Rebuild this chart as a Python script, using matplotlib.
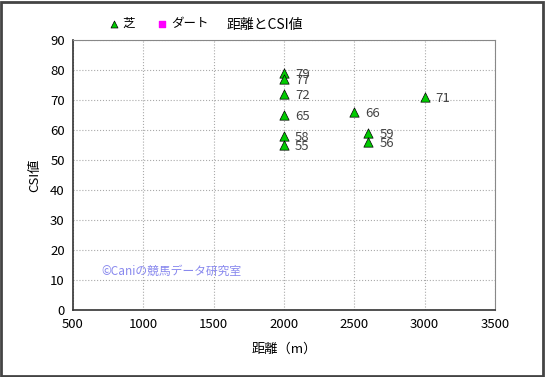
import matplotlib
matplotlib.use("Agg")
import matplotlib.pyplot as plt
from matplotlib.patches import Rectangle

plt.rcParams['font.family'] = ['Noto Sans CJK JP', 'DejaVu Sans']

# 芝 (turf) races: distance (m) and CSI value
turf_dist = [2000, 2000, 2000, 2000, 2000, 2000, 2500, 2600, 2600, 3000]
turf_csi = [79, 77, 72, 65, 58, 55, 66, 59, 56, 71]

# ダート (dirt) races: none in this chart
dirt_dist = []
dirt_csi = []

x_ticks = [500, 1000, 1500, 2000, 2500, 3000, 3500]
y_ticks = [0, 10, 20, 30, 40, 50, 60, 70, 80, 90]

fig = plt.figure(figsize=(5.45, 3.77), dpi=100)
ax = fig.add_axes([0.134, 0.178, 0.774, 0.716])

ax.scatter(turf_dist, turf_csi, marker='^', s=45, color='#00cc00',
           edgecolors='black', linewidths=0.5, zorder=3, label='芝')
ax.scatter(dirt_dist, dirt_csi, marker='s', s=40, color='#ff00ff',
           zorder=3, label='ダート')

for d, c in zip(turf_dist, turf_csi):
    ax.annotate(str(c), (d, c), xytext=(8, -1), textcoords='offset points',
                fontsize=9.5, color='#444444', va='center')

ax.set_xlim(500, 3500)
ax.set_ylim(0, 90)
ax.set_xticks(x_ticks)
ax.set_yticks(y_ticks)
ax.tick_params(length=0, labelsize=9.5, pad=6)
ax.grid(True, linestyle=':', color='#aaaaaa', linewidth=0.8)
ax.set_axisbelow(True)
for side in ['top', 'right']:
    ax.spines[side].set_color('#888888')
for side in ['left', 'bottom']:
    ax.spines[side].set_color('#333333')
    ax.spines[side].set_linewidth(1.2)

ax.set_xlabel('距離（m）', fontsize=9.5, labelpad=8)
ax.set_ylabel('CSI値', fontsize=9.5, labelpad=6)

fig.text(0.485, 0.935, '距離とCSI値', ha='center', va='center', fontsize=10)
ax.text(700, 13, '©Caniの競馬データ研究室', color='#8888ee', fontsize=8.5,
        va='center', zorder=4)

fig.legend(loc='upper left', bbox_to_anchor=(0.165, 0.985), ncols=2,
           frameon=False, fontsize=9, handletextpad=-0.3, columnspacing=1.2,
           markerscale=0.75)

fig.add_artist(Rectangle((0.002, 0.003), 0.994, 0.992, transform=fig.transFigure,
                         fill=False, edgecolor='#444444', linewidth=2))

fig.savefig('out.png', dpi=100)
